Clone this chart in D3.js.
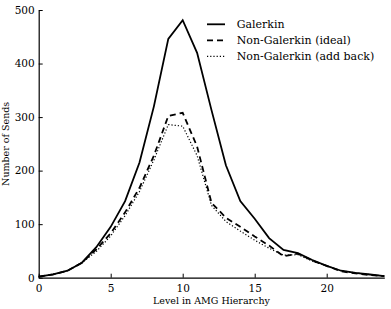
<!DOCTYPE html>
<html>
<head>
<meta charset="utf-8">
<script src="https://cdn.jsdelivr.net/npm/d3@7"></script>
<style>
  body { margin: 0; background: #fff; }
</style>
</head>
<body>
<svg width="391" height="309"></svg>
<script>
var levels = d3.range(0, 25);
var galerkin = [2, 6, 13, 28, 57, 95, 143, 215, 320, 446, 481, 420, 313, 210, 143, 110, 74, 52, 46, 33, 22, 13, 9, 6, 3];
var ngIdeal  = [2, 6, 13, 28, 53, 83, 122, 168, 228, 302, 308, 245, 140, 112, 95, 77, 60, 40, 45, 32, 22, 12, 8, 5, 3];
var ngAdd    = [2, 6, 13, 28, 49, 78, 116, 161, 220, 286, 283, 228, 135, 105, 87, 70, 55, 42, 43, 31, 22, 13, 9, 6, 3];
var seriesNames = ["Galerkin", "Non-Galerkin (ideal)", "Non-Galerkin (add back)"];
var xTicks = [0, 5, 10, 15, 20];
var yTicks = [0, 100, 200, 300, 400, 500];

var serif = "'DejaVu Serif', 'Liberation Serif', serif";

var margin = {top: 10, right: 6.7, bottom: 31.3, left: 38.7};
var width = 391 - margin.left - margin.right;
var height = 309 - margin.top - margin.bottom;

var svg = d3.select("svg")
  .append("g")
    .attr("transform", "translate(" + margin.left + "," + margin.top + ")");

var x = d3.scaleLinear().domain([0, 24]).range([0, width]);
var y = d3.scaleLinear().domain([0, 500]).range([height, 0]);

// axes, ticks inward like matplotlib classic
var xAxis = svg.append("g")
    .attr("transform", "translate(0," + height + ")")
    .call(d3.axisBottom(x).tickValues(xTicks).tickSizeInner(-4).tickSizeOuter(0).tickPadding(5));
var yAxis = svg.append("g")
    .call(d3.axisLeft(y).tickValues(yTicks).tickSizeInner(-4).tickSizeOuter(0).tickPadding(4));
svg.selectAll("g").attr("font-family", serif);
svg.selectAll(".domain").attr("stroke", "#000").attr("stroke-width", 1.2);
svg.selectAll(".tick line").attr("stroke", "#000");
svg.selectAll(".tick text")
    .style("font-family", serif)
    .style("font-size", "10.5px")
    .attr("fill", "#000");
xAxis.selectAll(".tick text").attr("dy", "0.9em");

// axis titles
svg.append("text")
    .attr("x", width / 2)
    .attr("y", height + 26)
    .style("font-family", serif)
    .style("text-anchor", "middle")
    .style("font-size", "9.5px")
    .text("Level in AMG Hierarchy");
svg.append("text")
    .attr("transform", "rotate(-90)")
    .attr("x", -(height / 2))
    .attr("y", -30)
    .style("font-family", serif)
    .style("text-anchor", "middle")
    .style("font-size", "9.5px")
    .text("Number of Sends");

var line = d3.line()
    .x(function(d, i) { return x(levels[i]); })
    .y(function(d) { return y(d); });

var styles = [
  {data: galerkin, dash: null, w: 1.8},
  {data: ngIdeal, dash: "6,4", w: 1.8},
  {data: ngAdd, dash: "1.2,2", w: 1.2}
];

styles.forEach(function(s) {
  svg.append("path")
      .datum(s.data)
      .attr("fill", "none")
      .attr("stroke", "#000")
      .attr("stroke-width", s.w)
      .attr("stroke-dasharray", s.dash)
      .attr("d", line);
});

// legend
var legend = svg.append("g").attr("transform", "translate(" + (207 - margin.left) + "," + (24.3 - margin.top) + ")");
styles.forEach(function(s, i) {
  var g = legend.append("g").attr("transform", "translate(0," + (i * 16) + ")");
  g.append("line")
      .attr("x1", 0).attr("x2", 18)
      .attr("stroke", "#000")
      .attr("stroke-width", s.w)
      .attr("stroke-dasharray", s.dash);
  g.append("text")
      .attr("x", 29.7)
      .attr("dy", "0.35em")
      .style("font-family", serif)
      .style("font-size", "11px")
      .text(seriesNames[i]);
});
</script>
</body>
</html>
